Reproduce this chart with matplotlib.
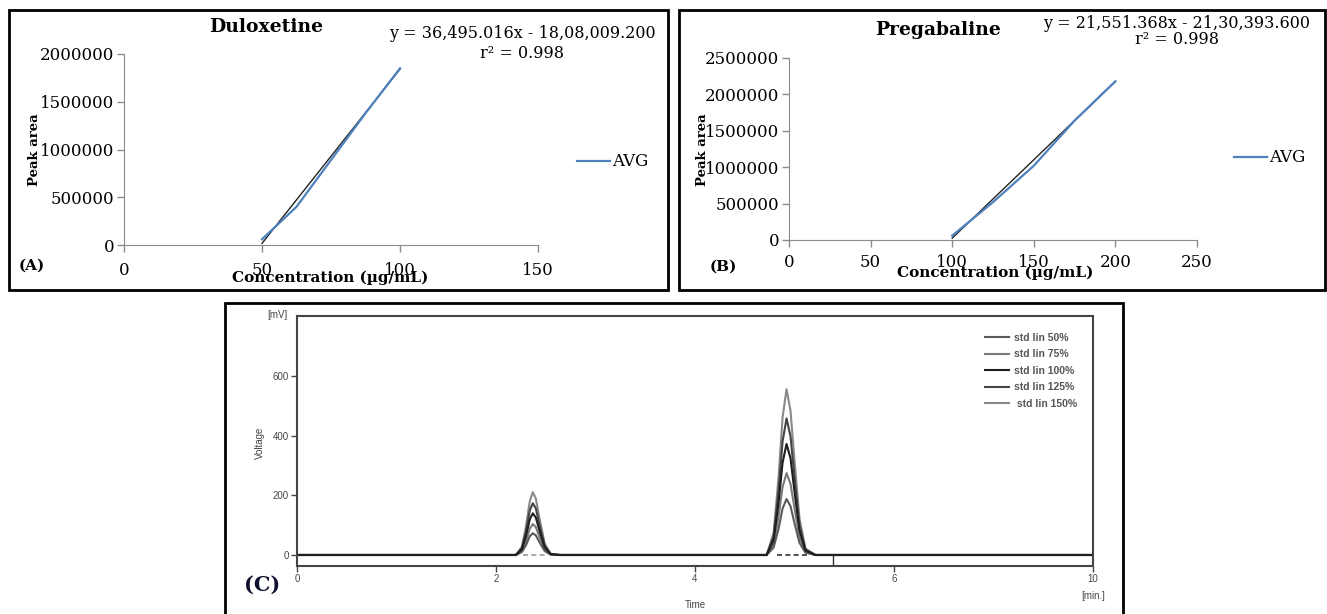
import matplotlib.pyplot as plt
from matplotlib.patches import Rectangle

# ---- dados painel A (Duloxetina) ----
dulox_conc = [50, 62.5, 75, 87.5, 100]
dulox_area = [60000, 400000, 890000, 1380000, 1850000]
dulox_slope = 36495.016
dulox_intercept = -1808009.2
dulox_xticks = [0, 50, 100, 150]
dulox_yticks = [0, 500000, 1000000, 1500000, 2000000]

# ---- dados painel B (Pregabalina) ----
prega_conc = [100, 125, 150, 175, 200]
prega_area = [60000, 520000, 1020000, 1640000, 2180000]
prega_slope = 21551.368
prega_intercept = -2130393.6
prega_xticks = [0, 50, 100, 150, 200, 250]
prega_yticks = [0, 500000, 1000000, 1500000, 2000000, 2500000]

# ---- dados painel C (cromatograma) ----
crom_labels = ['std lin 50%', 'std lin 75%', 'std lin 100%', 'std lin 125%', ' std lin 150%']
crom_cores = ['#5a5a5a', '#7a7a7a', '#1e1e1e', '#444444', '#8a8a8a']
pico1_t = [2.20, 2.26, 2.30, 2.34, 2.37, 2.40, 2.44, 2.49, 2.55, 2.64]
pico1_v = [
    [0, 10, 32, 63, 73, 66, 41, 13, 1, 0],
    [0, 14, 46, 89, 104, 94, 58, 19, 2, 0],
    [0, 19, 62, 120, 140, 126, 78, 25, 3, 0],
    [0, 23, 77, 150, 174, 157, 97, 31, 3, 0],
    [0, 28, 94, 181, 211, 190, 118, 38, 4, 0],
]
pico2_t = [4.72, 4.79, 4.84, 4.88, 4.92, 4.96, 5.00, 5.05, 5.11, 5.21]
pico2_v = [
    [0, 25, 88, 156, 188, 164, 107, 41, 8, 0],
    [0, 37, 129, 228, 275, 239, 157, 61, 11, 0],
    [0, 50, 175, 310, 373, 325, 213, 82, 15, 0],
    [0, 62, 216, 381, 459, 399, 262, 101, 18, 0],
    [0, 75, 262, 462, 557, 485, 318, 123, 22, 0],
]
crom_xticks = [0, 2, 4, 6, 8]
crom_xticklabels = ['0', '2', '4', '6', '10']
crom_yticks = [0, 200, 400, 600]
base_tracejada = [(2.27, 2.49, '#9a9a9a'), (4.82, 5.14, '#333333')]
marcas_evento = [5.39]

W, H = 1327, 614
fig = plt.figure(figsize=(W / 100, H / 100), dpi=100)


def eixo_px(esq, topo, dir, baixo):
    return fig.add_axes([esq / W, 1 - baixo / H, (dir - esq) / W, (baixo - topo) / H])


def texto_px(x, y, s, **kw):
    fig.text(x / W, 1 - y / H, s, **kw)


def moldura_px(esq, topo, dir, baixo):
    fig.patches.append(Rectangle((esq / W, 1 - baixo / H), (dir - esq) / W, (baixo - topo) / H,
                                 transform=fig.transFigure, fill=False, lw=2, ec='black'))


serif = 'DejaVu Serif'


def painel_excel(ax, conc, area, slope, intercept, xticks, yticks, pad_x):
    xs = [conc[0], conc[-1]]
    ax.plot(xs, [slope * x + intercept for x in xs], color='#222222', lw=1.0, zorder=2)
    linha, = ax.plot(conc, area, color='#4f81bd', lw=1.6, zorder=3)
    ax.set_xlim(xticks[0], xticks[-1])
    ax.set_ylim(yticks[0], yticks[-1])
    ax.set_xticks(xticks)
    ax.set_yticks(yticks)
    ax.set_xticklabels([str(v) for v in xticks], family=serif, fontsize=12)
    ax.set_yticklabels([str(v) for v in yticks], family=serif, fontsize=12)
    for s in ['top', 'right']:
        ax.spines[s].set_visible(False)
    for s in ['left', 'bottom']:
        ax.spines[s].set_color('#8c8c8c')
    ax.tick_params(direction='out', length=5, color='#8c8c8c', width=1)
    ax.tick_params(axis='x', pad=pad_x)
    ax.tick_params(axis='y', pad=2)
    ax.patch.set_alpha(0)
    return linha


# painel A
axA = eixo_px(124, 54, 538, 245)
linA = painel_excel(axA, dulox_conc, dulox_area, dulox_slope, dulox_intercept,
                    dulox_xticks, dulox_yticks, 7)
moldura_px(9, 10, 668, 290)
texto_px(266, 27, 'Duloxetine', family=serif, fontsize=13.5, weight='bold', ha='center', va='center')
texto_px(522, 34, 'y = 36,495.016x - 18,08,009.200', family=serif, fontsize=11.5, ha='center', va='center')
texto_px(522, 53, 'r² = 0.998', family=serif, fontsize=11.5, ha='center', va='center')
texto_px(34, 150, 'Peak area', family=serif, fontsize=9.5, weight='bold', rotation=90, ha='center', va='center')
texto_px(330, 278, 'Concentration (µg/mL)', family=serif, fontsize=11, weight='bold', ha='center', va='center')
texto_px(19, 266, '(A)', family=serif, fontsize=11, weight='bold', ha='left', va='center')
axA.legend([linA], ['AVG'], loc='center left', bbox_to_anchor=(577 / W, 1 - 162 / H),
           bbox_transform=fig.transFigure, frameon=False, handlelength=2.0, handletextpad=0.1,
           borderpad=0, borderaxespad=0, prop={'family': serif, 'size': 12})

# painel B
axB = eixo_px(789, 58, 1197, 240)
linB = painel_excel(axB, prega_conc, prega_area, prega_slope, prega_intercept,
                    prega_xticks, prega_yticks, 5)
moldura_px(679, 10, 1325, 290)
texto_px(938, 30, 'Pregabaline', family=serif, fontsize=13.5, weight='bold', ha='center', va='center')
texto_px(1177, 23, 'y = 21,551.368x - 21,30,393.600', family=serif, fontsize=11.5, ha='center', va='center')
texto_px(1177, 40, 'r² = 0.998', family=serif, fontsize=11.5, ha='center', va='center')
texto_px(703, 150, 'Peak area', family=serif, fontsize=9.5, weight='bold', rotation=90, ha='center', va='center')
texto_px(995, 273, 'Concentration (µg/mL)', family=serif, fontsize=11, weight='bold', ha='center', va='center')
texto_px(710, 267, '(B)', family=serif, fontsize=11, weight='bold', ha='left', va='center')
axB.legend([linB], ['AVG'], loc='center left', bbox_to_anchor=(1234 / W, 1 - 158 / H),
           bbox_transform=fig.transFigure, frameon=False, handlelength=2.0, handletextpad=0.1,
           borderpad=0, borderaxespad=0, prop={'family': serif, 'size': 12})

# painel C
axC = eixo_px(297, 316, 1093, 566)
y_min, y_max = -37, 803
ordem = [4, 1, 0, 3, 2]  # traço mais escuro por cima
linhas = {}
for i in ordem:
    t = [0] + pico1_t + pico2_t + [crom_xticks[-1]]
    v = [0] + pico1_v[i] + pico2_v[i] + [0]
    linhas[i], = axC.plot(t, v, color=crom_cores[i], lw=1.5, solid_joinstyle='round')
for x0, x1, cor in base_tracejada:
    axC.hlines(0, x0, x1, colors=cor, linestyles=(0, (3, 2)), lw=1.2)
axC.vlines(marcas_evento, y_min, 0, colors='#333333', lw=1)
axC.set_xlim(crom_xticks[0], crom_xticks[-1])
axC.set_ylim(y_min, y_max)
axC.set_xticks(crom_xticks)
axC.set_xticklabels(crom_xticklabels, family='Liberation Sans', fontsize=7, color='#444444')
axC.set_yticks(crom_yticks)
axC.set_yticklabels([str(v) for v in crom_yticks], family='Liberation Sans', fontsize=7, color='#444444')
for s in axC.spines.values():
    s.set_color('#444444')
    s.set_linewidth(1.5)
axC.tick_params(direction='out', length=4, color='#444444', width=1, pad=2)
axC.legend([linhas[i] for i in range(len(crom_labels))], crom_labels,
           loc='upper left', bbox_to_anchor=(985 / W, 1 - 333 / H), bbox_transform=fig.transFigure,
           frameon=False, handlelength=2.3, handletextpad=0.5, labelspacing=0.62, borderpad=0,
           borderaxespad=0, prop={'family': 'Liberation Sans', 'size': 7.5, 'weight': 'bold'},
           labelcolor='#555555')
moldura_px(225, 303, 1123, 618)
texto_px(288, 315, '[mV]', family='Liberation Sans', fontsize=7, color='#444444', ha='right', va='center')
texto_px(260, 443, 'Voltage', family='Liberation Sans', fontsize=7, color='#444444', rotation=90,
         ha='center', va='center')
texto_px(695, 605, 'Time', family='Liberation Sans', fontsize=7, color='#444444', ha='center', va='center')
texto_px(1093, 596, '[min.]', family='Liberation Sans', fontsize=7, color='#444444', ha='center', va='center')
texto_px(262, 585, '(C)', family=serif, fontsize=15, weight='bold', color='#101030', ha='center', va='center')

fig.savefig('out.png', dpi=100)
